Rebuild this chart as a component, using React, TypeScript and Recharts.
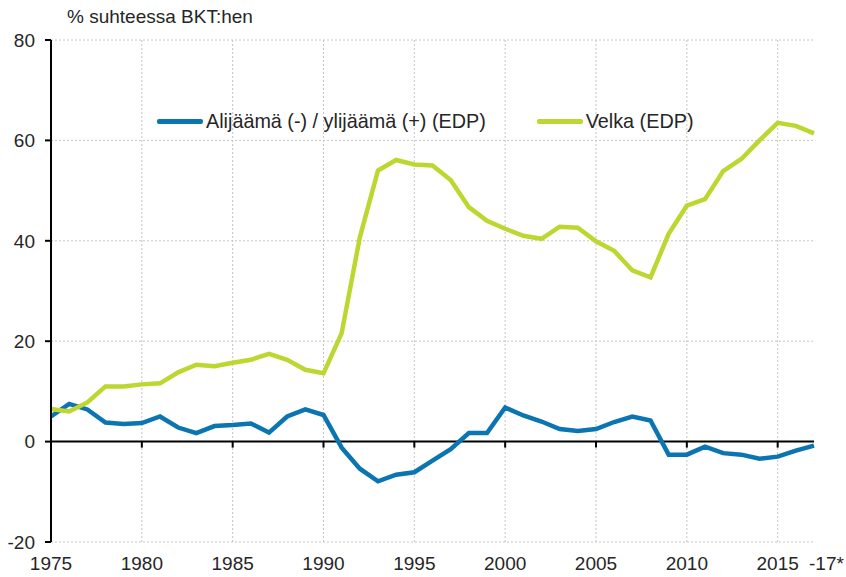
import React from 'react';
import {
  LineChart,
  Line,
  XAxis,
  YAxis,
  CartesianGrid,
  ReferenceLine,
} from 'recharts';

const years = [
  1975, 1976, 1977, 1978, 1979, 1980, 1981, 1982, 1983, 1984,
  1985, 1986, 1987, 1988, 1989, 1990, 1991, 1992, 1993, 1994,
  1995, 1996, 1997, 1998, 1999, 2000, 2001, 2002, 2003, 2004,
  2005, 2006, 2007, 2008, 2009, 2010, 2011, 2012, 2013, 2014,
  2015, 2016, 2017,
];

// Alijäämä (-) / ylijäämä (+), % of GDP
const deficit = [
  5.0, 7.5, 6.4, 3.8, 3.5, 3.7, 5.0, 2.8, 1.7, 3.1,
  3.3, 3.6, 1.8, 5.0, 6.4, 5.3, -1.2, -5.4, -7.9, -6.6,
  -6.1, -3.8, -1.5, 1.7, 1.7, 6.8, 5.2, 4.0, 2.5, 2.1,
  2.5, 3.9, 5.0, 4.2, -2.6, -2.6, -1.0, -2.3, -2.6, -3.4,
  -3.0, -1.8, -0.8,
];

// Velka, % of GDP
const debt = [
  6.5, 6.0, 7.8, 11.0, 11.0, 11.4, 11.6, 13.8, 15.3, 15.0,
  15.7, 16.3, 17.5, 16.3, 14.3, 13.6, 21.6, 40.7, 54.0, 56.1,
  55.2, 55.0, 52.1, 46.7, 44.0, 42.4, 41.0, 40.4, 42.8, 42.6,
  39.9, 38.0, 34.1, 32.7, 41.4, 47.0, 48.3, 53.9, 56.3, 60.0,
  63.5, 62.9, 61.4,
];

const xTicks = [1975, 1980, 1985, 1990, 1995, 2000, 2005, 2010, 2015, 2017];
const gridYears = [1980, 1985, 1990, 1995, 2000, 2005, 2010, 2015];
const yTicks = [-20, 0, 20, 40, 60, 80];

const series = [
  { key: 'deficit', name: 'Alijäämä (-) / ylijäämä (+) (EDP)', color: '#0b75b2' },
  { key: 'debt', name: 'Velka (EDP)', color: '#bdd630' },
];

const data = years.map((year, i) => ({ year, deficit: deficit[i], debt: debt[i] }));

const FONT = '"Liberation Sans", Arial, sans-serif';
const TEXT = '#262626';

const XTick = ({ x, y, payload }: any) => {
  const last = payload.value === 2017;
  return (
    <text
      x={last ? x - 5 : x}
      y={y}
      dy="0.71em"
      textAnchor={last ? 'start' : 'middle'}
      fontSize={19}
      fontFamily={FONT}
      fill={TEXT}
    >
      {last ? '-17*' : payload.value}
    </text>
  );
};

export default function App() {
  return (
    <div style={{ position: 'absolute', left: 0, top: 0, width: 846, height: 577, background: '#fff' }}>
      <div
        style={{
          position: 'absolute',
          left: 67,
          top: 6,
          fontFamily: FONT,
          fontSize: 19,
          color: TEXT,
          whiteSpace: 'nowrap',
        }}
      >
        % suhteessa BKT:hen
      </div>
      <LineChart width={846} height={577} data={data} margin={{ top: 40, right: 32, bottom: 0, left: 0 }}>
        <CartesianGrid
          stroke="#c4c4c4"
          strokeDasharray="2 2"
          verticalValues={gridYears}
          horizontalValues={[-20, 20, 40, 60, 80]}
        />
        <XAxis
          dataKey="year"
          type="number"
          domain={[1975, 2017]}
          ticks={xTicks}
          interval={0}
          axisLine={false}
          tickLine={false}
          tickSize={0}
          tickMargin={15}
          height={35}
          tick={<XTick />}
        />
        <YAxis
          type="number"
          domain={[-20, 80]}
          ticks={yTicks}
          interval={0}
          width={51}
          axisLine={{ stroke: '#000', strokeWidth: 2 }}
          tickLine={{ stroke: '#000', strokeWidth: 2 }}
          tickSize={6}
          tickMargin={10}
          tick={{ fontSize: 19, fontFamily: FONT, fill: TEXT }}
        />
        <ReferenceLine y={0} stroke="#000" strokeWidth={2} />
        {gridYears.map((yr) => (
          <ReferenceLine
            key={yr}
            segment={[{ x: yr, y: 0 }, { x: yr, y: -1.2 }]}
            stroke="#000"
            strokeWidth={2}
          />
        ))}
        {series.map((s) => (
          <Line
            key={s.key}
            type="linear"
            dataKey={s.key}
            name={s.name}
            stroke={s.color}
            strokeWidth={4.5}
            dot={false}
            activeDot={false}
            isAnimationActive={false}
          />
        ))}
      </LineChart>
      <div
        style={{
          position: 'absolute',
          left: 157,
          top: 110,
          display: 'flex',
          alignItems: 'center',
          fontFamily: FONT,
          fontSize: 19.8,
          color: TEXT,
        }}
      >
        {series.map((s, i) => (
          <div key={s.key} style={{ display: 'flex', alignItems: 'center', marginLeft: i ? 51 : 0 }}>
            <div style={{ width: 46, height: 4.5, background: s.color, borderRadius: 2 }} />
            <span style={{ marginLeft: 3, whiteSpace: 'nowrap' }}>{s.name}</span>
          </div>
        ))}
      </div>
    </div>
  );
}
